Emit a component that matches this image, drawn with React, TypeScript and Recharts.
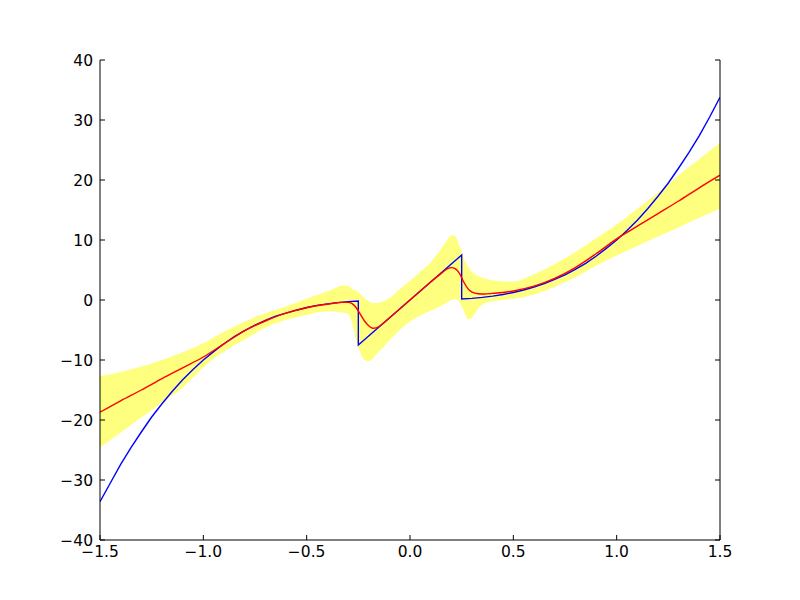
import { ComposedChart, Line, Area, XAxis, YAxis } from 'recharts';

// blue: observed function
const blueX = [
  -1.5, -1.45, -1.4, -1.35, -1.3, -1.25, -1.2, -1.15, -1.1, -1.05, -1.0, -0.95, -0.9, -0.85, -0.8,
  -0.75, -0.7, -0.65, -0.6, -0.55, -0.5, -0.45, -0.4, -0.35, -0.3, -0.25, -0.25, -0.2, -0.15, -0.1,
  -0.05, 0, 0.05, 0.1, 0.15, 0.2, 0.25, 0.25, 0.3, 0.35, 0.4, 0.45, 0.5, 0.55, 0.6, 0.65, 0.7, 0.75,
  0.8, 0.85, 0.9, 0.95, 1.0, 1.05, 1.1, 1.15, 1.2, 1.25, 1.3, 1.35, 1.4, 1.45, 1.5,
];
const blueY = [
  -33.6, -30.5, -27.4, -24.6, -22.0, -19.5, -17.3, -15.2, -13.3, -11.6, -10.0, -8.6, -7.3, -6.1, -5.1,
  -4.2, -3.4, -2.7, -2.2, -1.7, -1.25, -0.9, -0.65, -0.43, -0.27, -0.16, -7.5, -6.0, -4.5, -3.0,
  -1.5, 0, 1.5, 3.0, 4.5, 6.0, 7.5, 0.16, 0.27, 0.43, 0.64, 0.91, 1.25, 1.66, 2.16, 2.75, 3.43, 4.2,
  5.1, 6.1, 7.3, 8.6, 10.0, 11.6, 13.3, 15.2, 17.3, 19.5, 22.0, 24.6, 27.4, 30.5, 33.8,
];

// red mean and yellow band share these x positions
const fitX = [
  -1.5, -1.4, -1.3, -1.2, -1.1, -1.0, -0.9, -0.8, -0.7, -0.6, -0.5, -0.42, -0.36, -0.33, -0.3, -0.28,
  -0.26, -0.24, -0.22, -0.2, -0.18, -0.16, -0.13, -0.1, -0.05, 0, 0.05, 0.1, 0.15, 0.18, 0.2, 0.22,
  0.24, 0.26, 0.28, 0.3, 0.33, 0.36, 0.4, 0.45, 0.5, 0.6, 0.7, 0.8, 0.9, 1.0, 1.1, 1.2, 1.3, 1.4, 1.5,
];
const meanY = [
  -18.7, -16.8, -15.0, -13.1, -11.3, -9.5, -7.3, -5.1, -3.5, -2.2, -1.3, -0.8, -0.5, -0.4, -0.4, -0.6,
  -1.3, -2.4, -3.5, -4.3, -4.7, -4.6, -3.9, -3.0, -1.5, 0, 1.5, 3.0, 4.4, 5.2, 5.4, 5.2,
  4.4, 3.0, 1.9, 1.3, 1.05, 1.0, 1.1, 1.25, 1.5, 2.3, 3.6, 5.4, 7.7, 10.2, 12.3, 14.4, 16.5, 18.7, 20.8,
];
const upperY = [
  -12.7, -12.0, -11.1, -10.0, -8.7, -7.2, -5.3, -3.6, -2.2, -1.1, 0.2, 1.2, 2.0, 2.4, 2.4, 1.8,
  1.6, 1.0, 0.3, -0.2, -0.5, -0.5, -0.2, 0.3, 1.8, 3.2, 4.7, 6.3, 8.5, 10.0, 10.8, 10.6,
  9.0, 7.0, 5.6, 4.7, 4.0, 3.6, 3.3, 3.1, 3.1, 4.3, 6.0, 8.0, 10.3, 12.6, 15.2, 17.9, 20.8, 23.5, 26.2,
];
const lowerY = [
  -24.6, -22.1, -19.6, -17.1, -14.6, -11.2, -8.6, -6.6, -4.6, -3.3, -2.5, -1.9, -1.9, -2.1, -2.3, -3.9,
  -6.8, -8.8, -10.0, -10.2, -9.8, -8.9, -7.9, -6.8, -5.0, -3.6, -2.6, -1.8, -1.0, -0.4, 0.0, 0.2,
  -0.4, -1.8, -3.2, -2.9, -1.4, -0.6, -0.2, 0.0, 0.2, 0.9, 2.2, 3.8, 5.7, 7.4, 9.0, 10.6, 12.1, 13.7, 15.2,
];

const xTicks = [-1.5, -1.0, -0.5, 0.0, 0.5, 1.0, 1.5];
const yTicks = [-40, -30, -20, -10, 0, 10, 20, 30, 40];

const blueData = blueX.map((x, i) => ({ x, y: blueY[i] }));
const fitData = fitX.map((x, i) => ({ x, mean: meanY[i], band: [lowerY[i], upperY[i]] }));

const font = { fontFamily: 'DejaVu Sans', fontSize: 15.5, fill: '#000' };
const minus = (s: string) => s.replace('-', '\u2212');

const BottomTick = ({ x, y, payload }: any) => (
  <g>
    <line x1={x} x2={x} y1={y} y2={y - 5} stroke="#000" />
    <text x={x} y={y + 17} textAnchor="middle" {...font}>
      {minus(Number(payload.value).toFixed(1))}
    </text>
  </g>
);
const TopTick = ({ x, y }: any) => <line x1={x} x2={x} y1={y} y2={y + 5} stroke="#000" />;
const LeftTick = ({ x, y, payload }: any) => (
  <g>
    <line x1={x} x2={x + 5} y1={y} y2={y} stroke="#000" />
    <text x={x - 7} y={y} dy="0.36em" textAnchor="end" {...font}>
      {minus(String(payload.value))}
    </text>
  </g>
);
const RightTick = ({ x, y }: any) => <line x1={x} x2={x - 5} y1={y} y2={y} stroke="#000" />;

export default function App() {
  return (
    <div style={{ position: 'absolute', left: 0, top: 0, width: 800, height: 600, background: '#fff' }}>
      <ComposedChart width={800} height={600} margin={{ top: 60, right: 40, bottom: 30, left: 60 }}>
        <XAxis
          dataKey="x"
          type="number"
          domain={[-1.5, 1.5]}
          ticks={xTicks}
          allowDataOverflow
          height={30}
          tickSize={0}
          tickMargin={0}
          tickLine={false}
          axisLine={{ stroke: '#000' }}
          tick={<BottomTick />}
          interval={0}
        />
        <XAxis
          xAxisId="top"
          orientation="top"
          type="number"
          domain={[-1.5, 1.5]}
          ticks={xTicks}
          allowDataOverflow
          height={0}
          tickSize={0}
          tickMargin={0}
          tickLine={false}
          axisLine={{ stroke: '#000' }}
          tick={<TopTick />}
          interval={0}
        />
        <YAxis
          type="number"
          domain={[-40, 40]}
          ticks={yTicks}
          allowDataOverflow
          width={40}
          tickSize={0}
          tickMargin={0}
          tickLine={false}
          axisLine={{ stroke: '#000' }}
          tick={<LeftTick />}
          interval={0}
        />
        <YAxis
          yAxisId="right"
          orientation="right"
          type="number"
          domain={[-40, 40]}
          ticks={yTicks}
          allowDataOverflow
          width={40}
          tickSize={0}
          tickMargin={0}
          tickLine={false}
          axisLine={{ stroke: '#000' }}
          tick={<RightTick />}
          interval={0}
        />
        <Area
          data={fitData}
          dataKey="band"
          type="monotone"
          stroke="none"
          fill="#ffff00"
          fillOpacity={0.5}
          isAnimationActive={false}
        />
        <Line
          data={blueData}
          dataKey="y"
          type="linear"
          stroke="#0000ff"
          strokeWidth={1.4}
          dot={false}
          isAnimationActive={false}
        />
        <Line
          data={fitData}
          dataKey="mean"
          type="monotone"
          stroke="#ff0000"
          strokeWidth={1.4}
          dot={false}
          isAnimationActive={false}
        />
      </ComposedChart>
    </div>
  );
}
